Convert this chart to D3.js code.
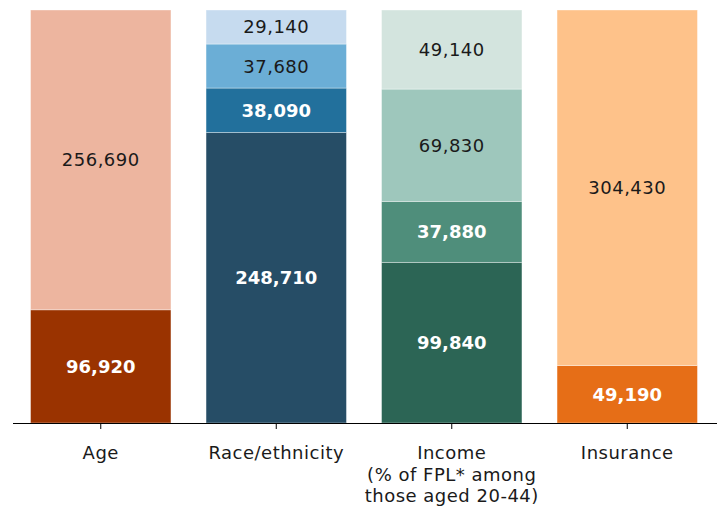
<!DOCTYPE html>
<html>
<head>
<meta charset="utf-8">
<script src="https://cdn.jsdelivr.net/npm/d3@7"></script>
<style>
  html, body { margin: 0; padding: 0; background: #fff; }
</style>
</head>
<body>
<svg id="chart" width="717" height="514"></svg>
<script>
// Categories along the x axis (multi-line labels split on "\n")
const categories = ["Age", "Race/ethnicity", "Income\n(% of FPL* among\nthose aged 20-44)", "Insurance"];

// Segment values per category, listed bottom to top
const ageValues = [96920, 256690];
const raceValues = [248710, 38090, 37680, 29140];
const incomeValues = [99840, 37880, 69830, 49140];
const insuranceValues = [49190, 304430];

// Fill colours per segment, bottom to top
const ageColors = ["#9a3300", "#edb59f"];
const raceColors = ["#264d66", "#22709c", "#6baed6", "#c6dbef"];
const incomeColors = ["#2c6555", "#4f8e7b", "#9ec7bc", "#d3e4de"];
const insuranceColors = ["#e66e17", "#fec28a"];

// Which segments carry bold white labels
const ageDark = [true, false];
const raceDark = [true, true, false, false];
const incomeDark = [true, true, false, false];
const insuranceDark = [true, false];

const seriesValues = [ageValues, raceValues, incomeValues, insuranceValues];
const seriesColors = [ageColors, raceColors, incomeColors, insuranceColors];
const seriesDark = [ageDark, raceDark, incomeDark, insuranceDark];

const FONT = "'DejaVu Sans', Verdana, sans-serif";

const svg = d3.select("#chart");
const margin = { top: 10, bottom: 91, left: 13, right: 2 };
const width = 717, height = 514;
const y0 = height - margin.bottom;

const x = d3.scaleBand()
  .domain(categories)
  .range([margin.left, width - margin.right])
  .paddingInner(0.2)
  .paddingOuter(0.1);

// Each bar is shown as shares of its own total (100% stacked)
const y = d3.scaleLinear().domain([0, 1]).range([y0, margin.top]);
const fmt = d3.format(",");

categories.forEach((cat, i) => {
  const vals = seriesValues[i];
  const total = d3.sum(vals);
  let cum = 0;
  const segs = vals.map((v, j) => {
    const s = { v, j, lo: cum / total, hi: (cum + v) / total };
    cum += v;
    return s;
  });
  const g = svg.append("g");
  g.selectAll("rect").data(segs).join("rect")
    .attr("x", x(cat))
    .attr("width", x.bandwidth())
    .attr("y", d => y(d.hi))
    .attr("height", d => y(d.lo) - y(d.hi))
    .attr("fill", d => seriesColors[i][d.j])
    .attr("stroke", "#ffffff")
    .attr("stroke-opacity", 0.45)
    .attr("stroke-width", 0.8);
  g.selectAll("text").data(segs).join("text")
    .attr("x", x(cat) + x.bandwidth() / 2)
    .attr("y", d => (y(d.lo) + y(d.hi)) / 2)
    .attr("dy", "0.36em")
    .attr("text-anchor", "middle")
    .attr("font-family", FONT)
    .attr("font-size", 18)
    .attr("letter-spacing", d => seriesDark[i][d.j] ? 0 : 0.5)
    .attr("font-weight", d => seriesDark[i][d.j] ? "bold" : "normal")
    .attr("fill", d => seriesDark[i][d.j] ? "#ffffff" : "#1a1a1a")
    .text(d => fmt(d.v));
});

// Baseline axis with category ticks
const axis = svg.append("g").attr("transform", `translate(0,${y0})`)
  .call(d3.axisBottom(x).tickSize(6).tickSizeOuter(0).tickFormat(""));
axis.select(".domain").attr("stroke", "#000").attr("d", `M${margin.left},0.5H${width}`);
axis.selectAll(".tick line").attr("stroke", "#000");

axis.selectAll(".tick").each(function (d) {
  const t = d3.select(this).append("text")
    .attr("fill", "#1a1a1a")
    .attr("font-family", FONT)
    .attr("font-size", 18)
    .attr("letter-spacing", 0.5)
    .attr("text-anchor", "middle")
    .attr("y", 36);
  d.split("\n").forEach((line, k) => {
    t.append("tspan").attr("x", 0).attr("dy", k === 0 ? 0 : 21.5).text(line);
  });
});
</script>
</body>
</html>
